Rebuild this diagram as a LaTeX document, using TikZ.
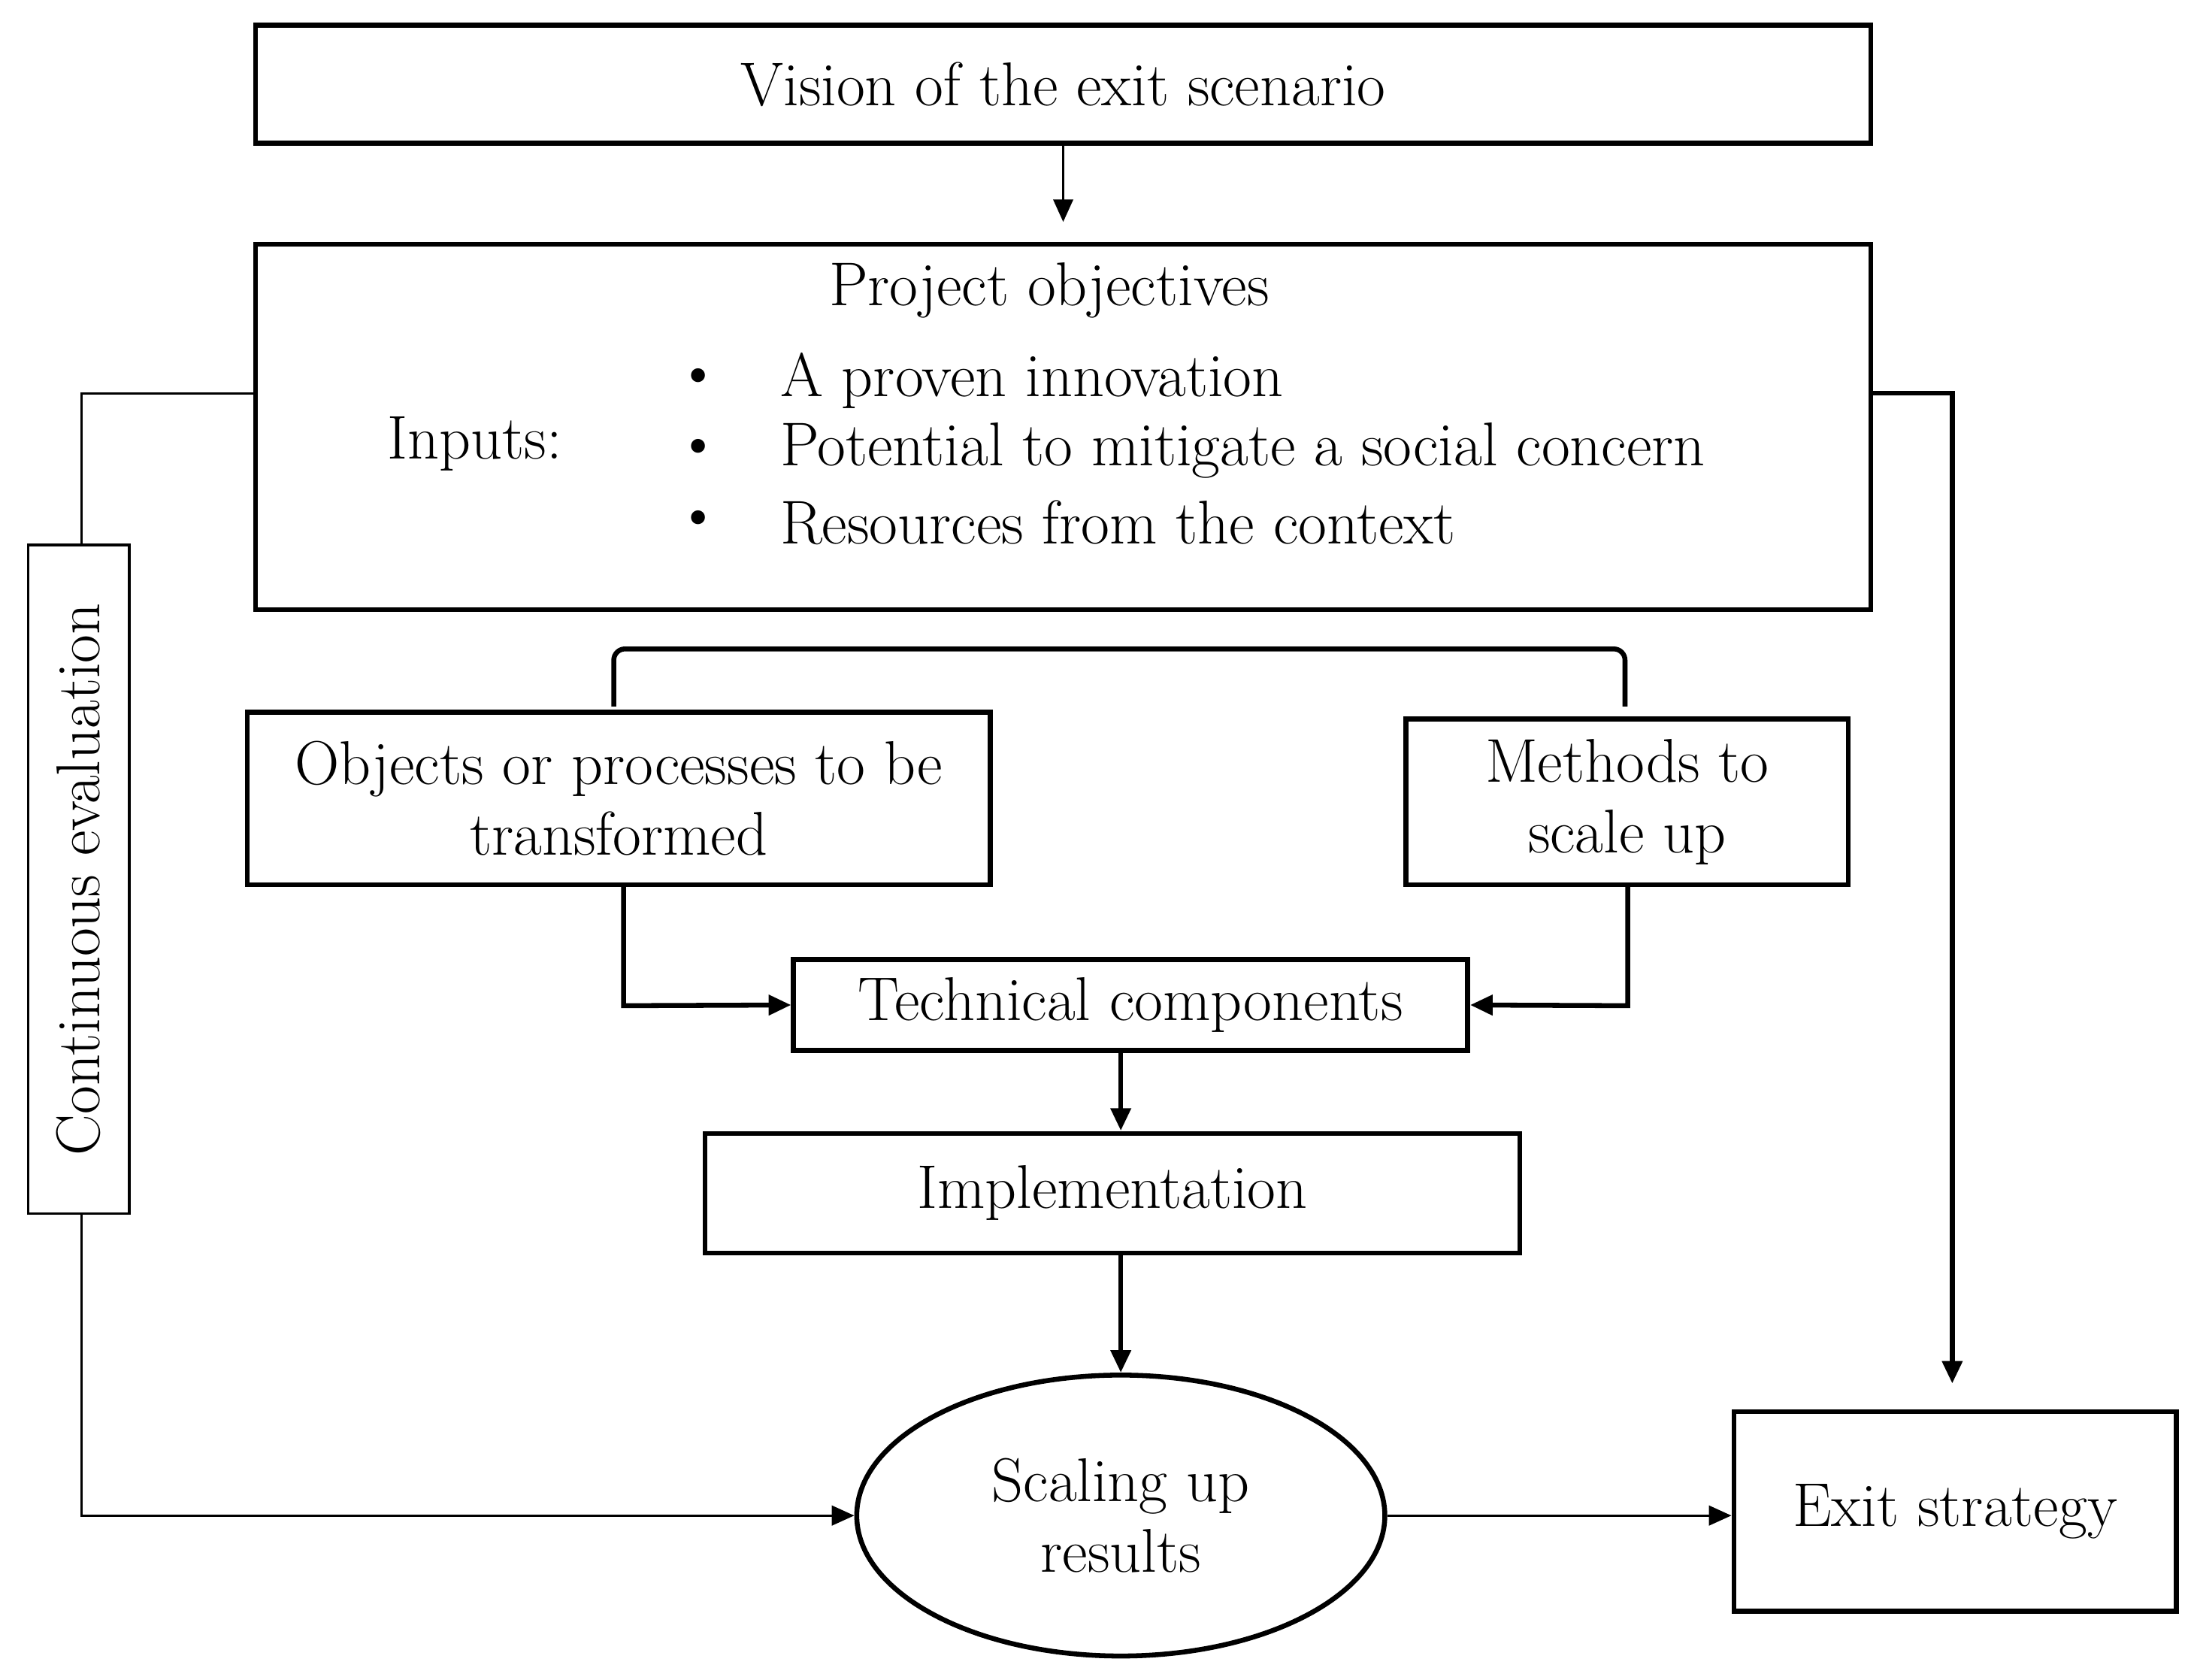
\documentclass[tikz,border=0pt]{standalone}
\usetikzlibrary{arrows.meta,shapes.geometric}
\begin{document}
\begin{tikzpicture}[x=1pt,y=-1pt,
  box/.style={draw,line width=3.5pt,inner sep=0pt},
  thin/.style={line width=1.8pt},
  thick/.style={line width=3.5pt},
  arr/.style={-{Triangle[length=16pt,width=14pt]}},
  txt/.style={font=\fontsize{44}{50}\selectfont,align=center}]
\useasboundingbox (0,0) rectangle (1560,1196);
\draw[box] (182,18) rectangle (1332,102);
\node[txt] (vision) at (757,60) {Vision of the exit scenario};
\coordinate (vb) at (757,102);
\coordinate (pt) at (757,158);
\draw[thin,arr] (vb) -- (pt);
\draw[box] (182,174) rectangle (1332,434);
\node[txt] (po) at (747,207) {Project objectives};
\node[txt] (inp) at (338,316) {Inputs:};
\foreach \y/\t [count=\i] in {271/A proven innovation,321/Potential to mitigate a social concern,372/Resources from the context}{
  \node[txt] (b\i) at (497,\y) {\textbullet};
  \node[txt,anchor=west] (t\i) at (552,\y) {\t};
}
% continuous evaluation
\node[draw,thin,minimum width=476pt,minimum height=72pt,rotate=90,txt] (ce) at (56,626) {Continuous evaluation};
\coordinate (pl) at (182,280);
\coordinate (l1) at (58,280);
\coordinate (l2) at (58,388);
\coordinate (l3) at (58,864);
\coordinate (l4) at (58,1079);
\draw[thin] (pl) -- (l1) -- (l2);
% ellipse
\node[draw,thick,ellipse,minimum width=376pt,minimum height=200pt,txt] (sc) at (798,1079) {Scaling up\\results};
\draw[thin,arr] (l3) -- (l4) -- (sc.west);
% right
\node[box,minimum width=315pt,minimum height=142pt,txt] (exit) at (1392,1076) {Exit strategy};
\coordinate (pr) at (1332,280);
\coordinate (r1) at (1390,280);
\coordinate (r2) at (1390,985);
\draw[thick,arr] (pr) -- (r1) -- (r2);
\draw[thin,arr] (sc.east) -- (exit.west|-sc.east);
% objects / methods
\node[box,minimum width=529pt,minimum height=123pt,txt] (obj) at (440.5,568.5) {Objects or processes to be\\transformed};
\node[box,minimum width=315pt,minimum height=118pt,txt] (meth) at (1158.5,571) {Methods to\\scale up};
\draw[thick,rounded corners=8pt] (437,503) -- (437,462) -- (1157,462) -- (1157,503);
\node[box,minimum width=480pt,minimum height=65pt,txt] (tech) at (805,715.5) {Technical components};
\coordinate (o1) at (444,716);
\coordinate (m1) at (1159,716);
\draw[thick,arr] (444,630) -- (o1) -- (tech.west);
\draw[thick,arr] (1159,630) -- (m1) -- (tech.east);
\node[box,minimum width=580pt,minimum height=85pt,txt] (impl) at (792,849.5) {Implementation};
\draw[thick,arr] (798,748) -- (798,805);
\draw[thick,arr] (798,892) -- (sc.north);
\end{tikzpicture}
\end{document}
